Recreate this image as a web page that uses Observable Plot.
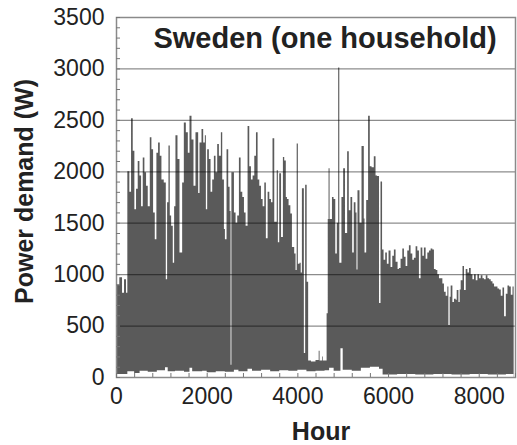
<!DOCTYPE html>
<html><head><meta charset="utf-8">
<script src="https://cdn.jsdelivr.net/npm/d3@7"></script>
<script src="https://cdn.jsdelivr.net/npm/@observablehq/plot@0.6"></script>
<style>body{margin:0;background:#fff} svg{display:block}</style>
</head><body><div id="chart"></div>
<script>
// Hourly power demand (hour, W)
const hours = [0,22,73,133,177,221,250,294,332,369,405,442,479,516,553,590,626,663,700,745,781,818,855,891,928,965,1002,1053,1098,1127,1157,1186,1216,1252,1282,1311,1356,1400,1459,1496,1540,1584,1621,1665,1709,1753,
 1812,1842,1886,1923,1960,1982,2011,2048,2085,2122,2159,2195,2232,2269,2313,2343,2380,2402,2438,2475,2505,2527,2545,2601,2637,2674,2711,2748,2785,2822,2858,2902,2939,2976,3013,3050,3087,3123,3160,3197,3234,3271,3305,3344,3381,3418,
 3452,3490,3545,3570,3600,3640,3681,3710,3745,3770,3806,3845,3880,3930,3960,3985,4011,4047,4074,4100,4143,4172,4205,
 4238,4300,4400,4470,4490,4545,4560,4645,4670,4688,4710,4763,4798,4836,4870,4900,4925,4972,5010,5050,5098,5134,5171,5209,5244,5282,5304,5326,5370,5415,5465,5481,5518,5560,5597,5636,5686,5724,5757,5801,5834,
 5868,5901,5938,5974,6011,6055,6093,6129,6166,6210,6239,6276,6315,6350,6387,6424,6460,6497,6535,6570,6608,6645,6681,6718,6756,6791,6829,6866,6902,6939,6977,
 7012,7050,7087,7123,7160,7198,7233,7271,7308,7331,7359,7381,7419,7454,7492,7514,7552,7580,7602,7642,7675,7713,7750,7786,7823,7861,7896,7934,7971,
 8007,8044,8082,8117,8155,8192,8228,8265,8303,8338,8376,8413,8449,8486,8524,8559,8597,8634,8670,8707,8745,8770];
const demand = [700,900,970,820,950,820,2000,1800,2515,2200,1630,1830,2100,1960,1660,2135,1990,1860,1660,2330,2215,1600,1340,2180,2280,2150,1920,1890,950,1700,2250,1570,1470,1110,1660,2350,2120,1210,1890,2475,2380,2180,2540,2310,1860,2380,
 1790,2280,2410,2280,2350,1630,2215,2120,1800,1920,2150,1990,2265,2150,2380,1920,1440,1340,2215,1850,1615,120,1990,1600,1500,1570,2135,1800,1750,1600,1470,2440,2050,1920,1960,2150,2380,1920,1860,1730,1660,1890,1350,1800,1730,1700,
 2320,1510,2010,1310,1980,1360,2140,2105,1750,1730,1670,1590,1265,1200,1040,2270,1100,1110,1015,1835,233,1870,925,
 160,150,165,255,160,200,160,620,1535,2030,1535,1750,1730,1200,1500,3010,1110,1750,2030,1400,2195,1620,1750,1210,1700,1600,1045,1815,1500,2245,1540,1210,1720,2540,2050,2040,2145,1960,1955,720,1900,
 1240,1140,1210,1100,1230,1070,1180,1240,1120,1050,1060,1150,1250,1170,1080,1230,1280,1200,1140,1160,1270,1230,960,1260,1180,1260,1150,1210,1230,1250,1240,
 1050,1040,1000,960,960,910,830,790,880,505,780,890,730,760,750,845,730,850,940,1080,845,1050,1015,1060,1000,950,1000,940,1000,
 960,990,960,950,990,960,950,930,910,880,880,860,850,790,870,590,810,890,880,800,880,890];
// Lower edge of the filled band (hour, W)
const lowHours = [0,250,400,520,700,900,1080,1140,1300,1500,1620,1680,1900,2000,2200,2400,2600,2700,2900,3000,3200,3400,3600,3800,4000,4200,4400,4600,4700,4800,4950,5000,5200,5400,5600,5800,5880,6200,6600,7000,7400,7800,8200,8600,8770];
const lowDemand = [30,55,40,60,50,65,95,55,60,50,90,55,60,45,55,50,70,55,80,60,70,55,65,60,70,55,60,65,90,60,280,70,60,90,100,80,25,30,25,30,25,30,25,30,30];

const xTicks = [0,2000,4000,6000,8000];
const xMinor = d3.range(0, 8801, 400);
const yTicks = [0,500,1000,1500,2000,2500,3000,3500];
const yMinor = d3.range(0, 3501, 100);
const title = "Sweden (one household)";
const xLabel = "Hour";
const yLabel = "Power demand (W)";

const data = hours.map((h, i) => ({hour: h, w: demand[i]}));
const low = lowHours.map((h, i) => ({hour: h, w: lowDemand[i]}));
const fmt = d => String(d);

const chart = Plot.plot({
  width: 517, height: 445,
  marginLeft: 116, marginRight: 2, marginTop: 17, marginBottom: 68,
  style: {fontFamily: "'Liberation Sans', Arial, sans-serif", background: "white", color: "#222"},
  x: {domain: [0, 8800]},
  y: {domain: [0, 3500]},
  marks: [
    Plot.areaY(data, {x: "hour", y: "w", curve: "step-after", fill: "#5a5a5a"}),
    Plot.areaY(low, {x: "hour", y: "w", curve: "step-after", fill: "white"}),
    Plot.gridY(yTicks, {stroke: "#000", strokeOpacity: 0.45, strokeWidth: 1.2}),
    Plot.frame({stroke: "#8a8a8a", strokeWidth: 1.5}),
    Plot.axisY(yMinor, {tickSize: 4, dx: 4, text: null, stroke: "#777", label: null}),
    Plot.axisY(yTicks, {tickSize: 0, tickPadding: 12, fontSize: 23, fill: "#222", label: null, tickFormat: fmt}),
    Plot.axisX(xMinor, {tickSize: 4, dy: -4, text: null, stroke: "#777", label: null}),
    Plot.axisX(xTicks, {tickSize: 0, tickPadding: 10, fontSize: 23, fill: "#222", label: null, tickFormat: fmt}),
    Plot.text([title], {frameAnchor: "top", dx: 9, dy: 10, lineAnchor: "top", fontSize: 29, fontWeight: "bold", fill: "#222"}),
    Plot.text([yLabel], {frameAnchor: "left", textAnchor: "middle", rotate: -90, dx: -84, dy: -6, lineAnchor: "bottom", fontSize: 25, fontWeight: "bold", fill: "#222"}),
    Plot.text([xLabel], {frameAnchor: "bottom", dx: 5, dy: 62, lineAnchor: "bottom", fontSize: 25, fontWeight: "bold", fill: "#222"})
  ]
});
document.getElementById("chart").appendChild(chart);
</script>
</body></html>
